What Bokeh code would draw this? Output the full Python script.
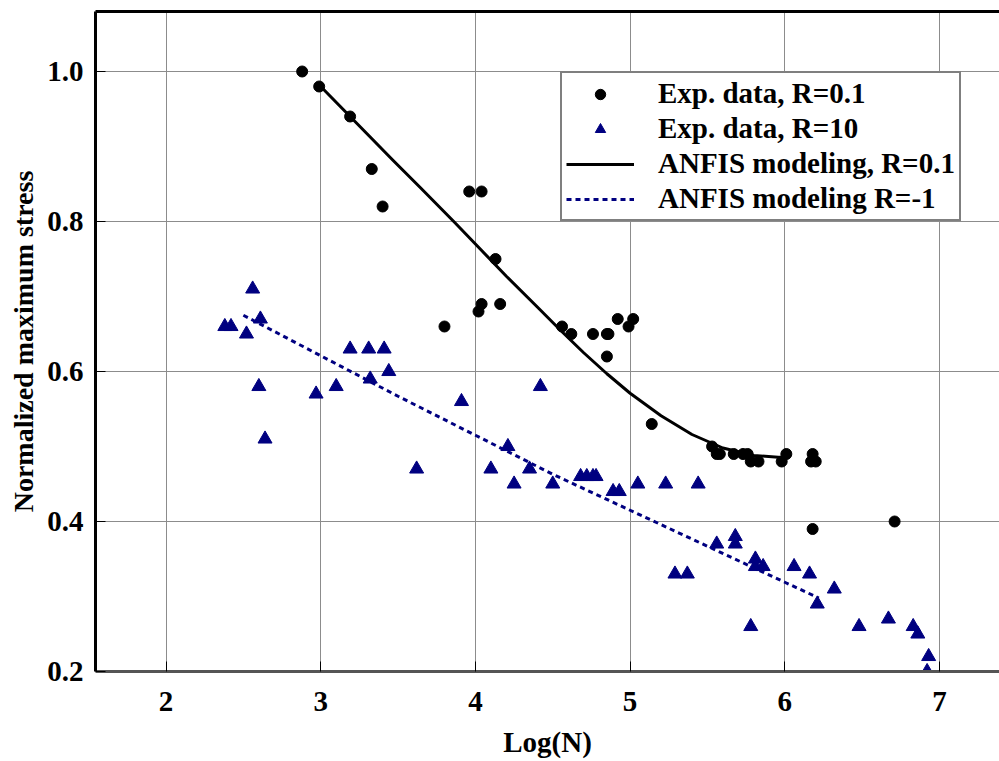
from bokeh.plotting import figure
from bokeh.models import (Range1d, FixedTicker, LinearAxis, Legend, LegendItem)
from bokeh.embed import file_html
from bokeh.resources import INLINE

# ---------------- data ----------------
exp01_x = [2.88, 2.99, 3.19, 3.33, 3.40, 3.80, 3.96, 4.04, 4.02, 4.04,
           4.13, 4.16, 4.56, 4.62, 4.76, 4.85, 4.86, 4.85, 4.92, 4.99,
           5.02, 5.14, 5.53, 5.56, 5.58, 5.67, 5.73, 5.76, 5.78, 5.83,
           5.98, 6.01, 6.18, 6.17, 6.20, 6.18, 6.71]
exp01_y = [1.00, 0.98, 0.94, 0.87, 0.82, 0.66, 0.84, 0.84, 0.68, 0.69,
           0.75, 0.69, 0.66, 0.65, 0.65, 0.65, 0.65, 0.62, 0.67, 0.66,
           0.67, 0.53, 0.50, 0.49, 0.49, 0.49, 0.49, 0.49, 0.48, 0.48,
           0.48, 0.49, 0.49, 0.48, 0.48, 0.39, 0.40]

exp10_x = [2.38, 2.42, 2.52, 2.56, 2.60, 2.61, 2.64, 2.97, 3.10, 3.19,
           3.31, 3.32, 3.41, 3.44, 3.62, 3.91, 4.10, 4.21, 4.25, 4.35,
           4.42, 4.50, 4.68, 4.72, 4.76, 4.78, 4.89, 4.93, 5.05, 5.23,
           5.29, 5.37, 5.44, 5.56, 5.68, 5.68, 5.78, 5.81, 5.81, 5.86,
           6.06, 6.16, 6.21, 6.32, 6.48, 6.67, 6.83, 6.86, 6.93, 6.92]
exp10_y = [0.66, 0.66, 0.65, 0.71, 0.58, 0.67, 0.51, 0.57, 0.58, 0.63,
           0.63, 0.59, 0.63, 0.60, 0.47, 0.56, 0.47, 0.50, 0.45, 0.47,
           0.58, 0.45, 0.46, 0.46, 0.46, 0.46, 0.44, 0.44, 0.45, 0.45,
           0.33, 0.33, 0.45, 0.37, 0.38, 0.37, 0.26, 0.35, 0.34, 0.34,
           0.34, 0.33, 0.29, 0.31, 0.26, 0.27, 0.26, 0.25, 0.22, 0.20]

anfis01_x = [3.0, 3.19, 3.47, 3.64, 3.86, 4.0, 4.2, 4.41, 4.55, 4.7, 4.85,
             5.0, 5.2, 5.4, 5.6, 5.8, 6.0]
anfis01_y = [0.98, 0.94, 0.881, 0.846, 0.80, 0.77, 0.727, 0.684, 0.655,
             0.625, 0.597, 0.571, 0.541, 0.516, 0.498, 0.488, 0.485]

anfism1_x = [2.5, 3.0, 3.5, 4.0, 4.5, 5.0, 5.5, 6.0, 6.22]
anfism1_y = [0.675, 0.621, 0.567, 0.515, 0.463, 0.415, 0.367, 0.319, 0.298]

x_ticks = [2, 3, 4, 5, 6, 7]
y_ticks = [0.2, 0.4, 0.6, 0.8, 1.0]
y_tick_labels = ["0.2", "0.4", "0.6", "0.8", "1.0"]

labels = ["Exp. data, R=0.1", "Exp. data, R=10",
          "ANFIS modeling, R=0.1", "ANFIS modeling R=-1"]

# ---------------- figure ----------------
FONT = "Liberation Serif"
NAVY = "#000080"
GRID = "#8c8c8c"

p = figure(width=999, height=761, output_backend="svg", toolbar_location=None,
           x_range=Range1d(1.544, 7.388), y_range=Range1d(0.2, 1.08),
           x_axis_location=None, y_axis_location=None,
           min_border_left=95, min_border_right=0, min_border_top=11,
           min_border_bottom=90)
p.outline_line_color = None
p.background_fill_color = "white"

xaxis = LinearAxis(ticker=FixedTicker(ticks=x_ticks), axis_label="Log(N)")
yaxis = LinearAxis(ticker=FixedTicker(ticks=y_ticks),
                   axis_label="Normalized maximum stress",
                   major_label_overrides={t: l for t, l in zip(y_ticks, y_tick_labels)})
top = LinearAxis(ticker=FixedTicker(ticks=[]), major_label_text_font_size="0px")
p.add_layout(xaxis, "below")
p.add_layout(yaxis, "left")
p.add_layout(top, "above")

for ax in (xaxis, yaxis):
    ax.major_label_text_font = FONT
    ax.major_label_text_font_style = "bold"
    ax.major_label_text_font_size = "29px"
    ax.major_label_text_color = "black"
    ax.axis_label_text_font = FONT
    ax.axis_label_text_font_style = "bold"
    ax.axis_label_text_color = "black"
    ax.major_tick_in = 10
    ax.major_tick_out = 0
    ax.minor_tick_in = 0
    ax.minor_tick_out = 0
    ax.major_tick_line_color = "black"
    ax.major_tick_line_width = 1
    ax.axis_line_width = 3

xaxis.axis_label_text_font_size = "29px"
yaxis.axis_label_text_font_size = "28px"
xaxis.axis_line_color = "#555555"
xaxis.major_label_standoff = 20
xaxis.axis_label_standoff = 12
yaxis.axis_line_color = "black"
yaxis.major_label_standoff = 12
yaxis.axis_label_standoff = 5

top.axis_line_color = "black"
top.axis_line_width = 3
top.major_tick_in = 0
top.major_tick_out = 0
top.minor_tick_in = 0
top.minor_tick_out = 0

p.xgrid.ticker = FixedTicker(ticks=x_ticks)
p.ygrid.ticker = FixedTicker(ticks=y_ticks)
for g in (p.xgrid, p.ygrid):
    g.grid_line_color = GRID
    g.grid_line_width = 1

r_line1 = p.line(anfis01_x, anfis01_y, line_color="black", line_width=3,
                 line_join="round")
r_line2 = p.line(anfism1_x, anfism1_y, line_color=NAVY, line_width=3,
                 line_dash="5 4")
r_circ = p.scatter(exp01_x, exp01_y, marker="circle", size=11,
                   fill_color="black", line_color="black")
r_tri = p.scatter(exp10_x, exp10_y, marker="triangle", size=14,
                  fill_color=NAVY, line_color=NAVY)

legend = Legend(items=[LegendItem(label=labels[0], renderers=[r_circ]),
                       LegendItem(label=labels[1], renderers=[r_tri]),
                       LegendItem(label=labels[2], renderers=[r_line1]),
                       LegendItem(label=labels[3], renderers=[r_line2])],
                location=(465, 450))
legend.label_text_font = FONT
legend.label_text_font_style = "bold"
legend.label_text_font_size = "29px"
legend.label_text_color = "black"
legend.glyph_width = 68
legend.glyph_height = 26
legend.label_height = 26
legend.label_standoff = 24
legend.spacing = 2
legend.padding = 4
legend.margin = 0
legend.border_line_color = "black"
legend.border_line_width = 2
legend.background_fill_color = "white"
legend.background_fill_alpha = 1.0
p.add_layout(legend, "center")

open("out.html", "w").write(file_html(p, INLINE))
